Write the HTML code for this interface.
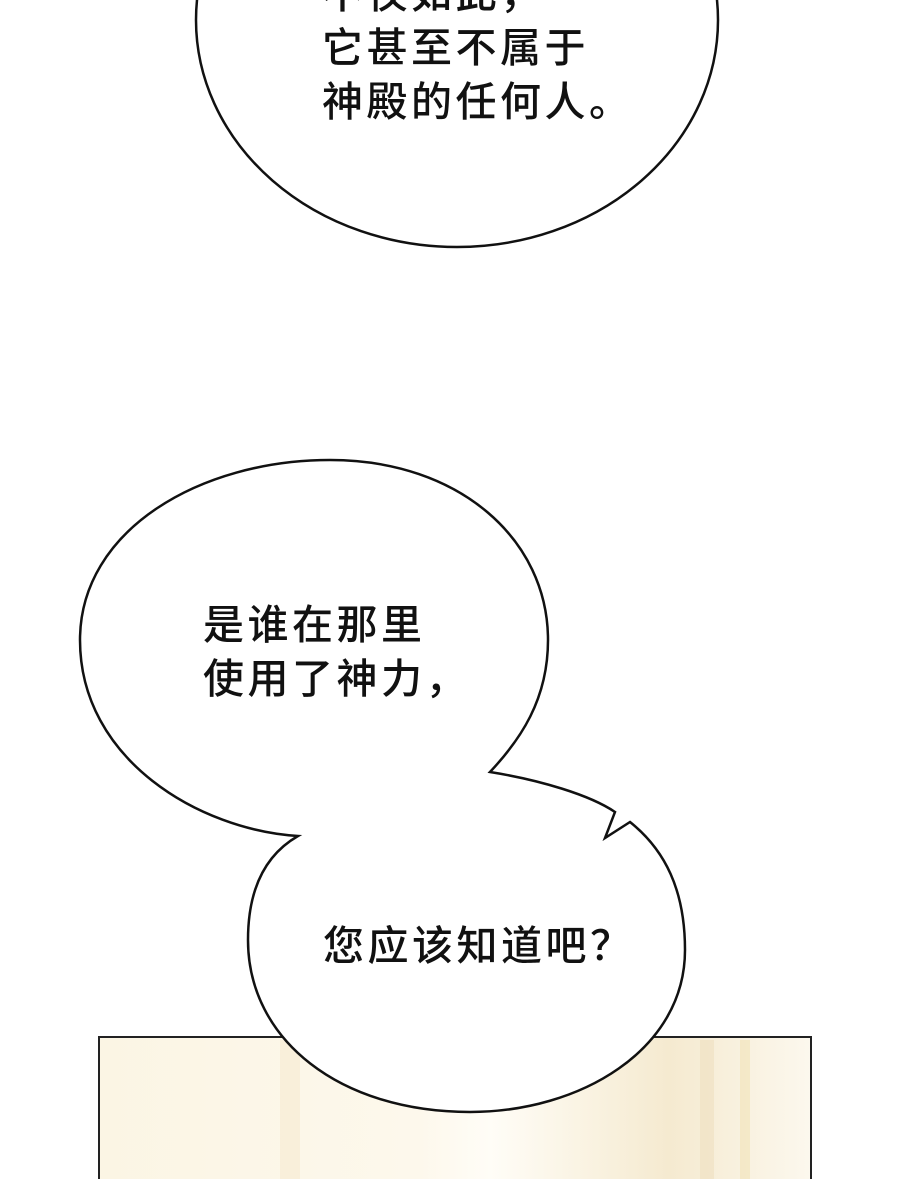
<!DOCTYPE html>
<html><head><meta charset="utf-8"><style>
html,body{margin:0;padding:0;background:#fff;width:900px;height:1179px;overflow:hidden}
svg{display:block}
text{font-family:"Liberation Sans","Noto Sans CJK SC",sans-serif;font-size:41px;font-weight:500;letter-spacing:3.5px;fill:#111}
</style></head><body>
<svg width="900" height="1179" viewBox="0 0 900 1179">
<defs>
<linearGradient id="bg" x1="0" x2="1" y1="0" y2="0">
<stop offset="0" stop-color="#fbf5e4"/>
<stop offset="0.45" stop-color="#fdf8ec"/>
<stop offset="0.55" stop-color="#fffdf7"/>
<stop offset="0.8" stop-color="#f5ead0"/>
<stop offset="1" stop-color="#fcf8ee"/>
</linearGradient>
</defs>
<rect x="99" y="1037" width="712" height="150" fill="url(#bg)" stroke="#222" stroke-width="2"/>
<rect x="280" y="1040" width="20" height="140" fill="#f6ead0" opacity="0.6"/>
<rect x="700" y="1040" width="14" height="140" fill="#eedfc0" opacity="0.6"/>
<rect x="740" y="1040" width="10" height="140" fill="#f0e2b8" opacity="0.6"/>
<ellipse cx="457" cy="20" rx="261" ry="227" fill="#fff" stroke="#111" stroke-width="2.5"/>
<text x="322" y="8">不仅如此，</text>
<text x="322" y="62">它甚至不属于</text>
<text x="322" y="116">神殿的任何人。</text>
<path d="M298,836 C200,830 80,760 80,640 C80,530 200,460 330,460 C460,460 548,540 548,640 C548,700 520,740 490,772 C540,780 590,795 615,812 L605,838 L630,822 C665,850 685,890 685,950 C685,1050 580,1112 470,1112 C340,1112 248,1040 248,940 C248,890 265,855 298,836 Z" fill="#fff" stroke="#111" stroke-width="2.5"/>
<text x="203" y="639">是谁在那里</text>
<text x="203" y="693">使用了神力，</text>
<text x="323" y="960">您应该知道吧？</text>
</svg>
</body></html>
